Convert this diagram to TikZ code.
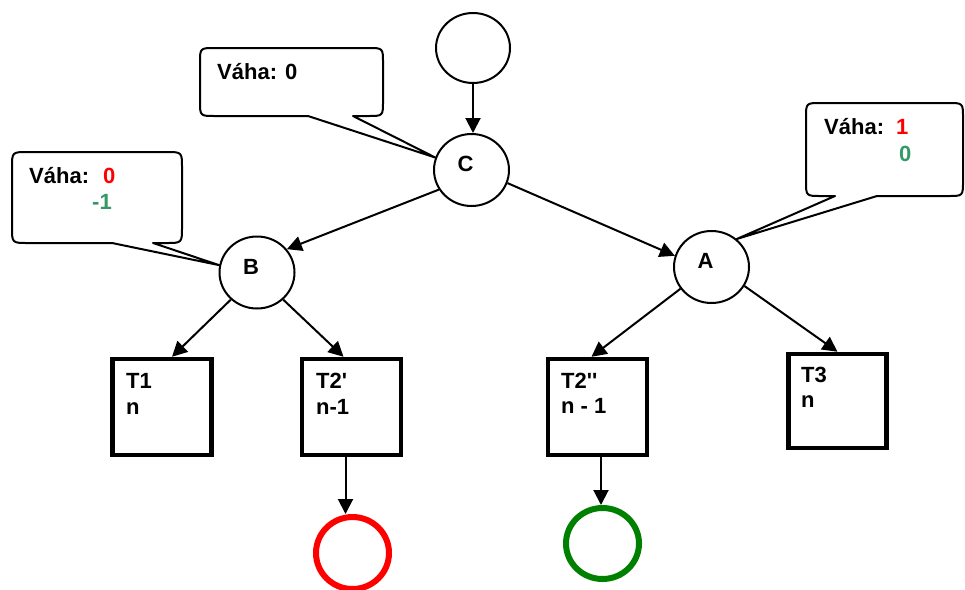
\documentclass[tikz,border=0pt]{standalone}
\usepackage{fontspec}
\setmainfont{Liberation Sans}
\usetikzlibrary{arrows.meta,shapes.geometric}
\definecolor{wgreen}{RGB}{51,153,102}
\definecolor{cgreen}{RGB}{0,128,0}
\begin{document}
\begin{tikzpicture}[x=1pt,y=-1pt,
 every node/.style={font=\fontsize{22}{26}\selectfont\bfseries},
 state/.style={draw,ellipse,line width=2pt,minimum width=75pt,minimum height=72pt,inner sep=0pt},
 task/.style={draw,rectangle,line width=4.5pt,minimum width=99pt,minimum height=96pt,inner sep=0pt},
 arr/.style={line width=2pt,-{Triangle[length=15pt,width=15pt]}},
 callout/.style={draw,fill=white,line width=2pt,line join=round},
 txt/.style={anchor=base west,inner sep=0pt},
 lbl/.style={label={[xshift=-6pt,yshift=6pt]center:#1}},
 endring/.style={draw,ellipse,line width=6pt,minimum width=73pt,minimum height=72pt,inner sep=0pt}]
\useasboundingbox (0,0) rectangle (965,589);

% state circles
\node[state,minimum width=74pt,minimum height=70pt] (top) at (473,48) {};
\node[state,lbl=C] (C) at (471.5,170) {};
\node[state,lbl=B] (B) at (257,272.5) {};
\node[state,lbl=A] (A) at (711.5,267) {};

% task boxes
\node[task] (t1) at (162,407) {};
\node[task] (t2p) at (351.5,407) {};
\node[task] (t2pp) at (597.5,407) {};
\node[task,minimum width=98pt,minimum height=94pt] (t3) at (837.5,401) {};

\node[txt] (t1a) at (126,388) {T1};
\node[txt] (t1b) at (126,414) {n};
\node[txt] (t2pa) at (316,388) {T2\textquotesingle};
\node[txt] (t2pb) at (316,414) {n-1};
\node[txt] (t2ppa) at (561,388) {T2\textquotesingle\textquotesingle};
\node[txt] (t2ppb) at (561,413) {n - 1};
\node[txt] (t3a) at (801,382) {T3};
\node[txt] (t3b) at (801,407) {n};

% end rings
\node[endring,draw=red] (red) at (352.5,553) {};
\node[endring,draw=cgreen,minimum height=71pt] (green) at (602.5,543.5) {};

% connectors
\coordinate (c0) at (top.south);
\draw[arr] (c0) -- (c0 |- C.north);
\draw[arr] (C.211) -- (B.38);
\draw[arr] (C.340) -- (A.163);
\draw[arr] (B.226) -- ([xshift=10pt]t1.north);
\draw[arr] (B.314) -- ([xshift=-8pt]t2p.north);
\draw[arr] (A.215) -- ([xshift=-6pt]t2pp.north);
\draw[arr] (A.330) -- (t3.north);
\coordinate (r1) at ([xshift=-6pt]t2p.south);
\coordinate (g1) at ([xshift=3.5pt,yshift=4pt]t2pp.south);
\draw[arr] (r1) -- (r1 |- red.north);
\draw[arr] (g1) -- (g1 |- green.north);

% callouts
\draw[callout] (308,116) -- (215,116) .. controls (200,116) .. (200,101) -- (200,63)
  .. controls (200,48) .. (215,48) -- (368,48) .. controls (383,48) .. (383,63)
  -- (383,101) .. controls (383,116) .. (368,116) -- (353,116) -- (C.161) -- cycle;
\draw[callout] (112,243) -- (28,243) .. controls (12,243) .. (12,227) -- (12,168)
  .. controls (12,152) .. (28,152) -- (166,152) .. controls (182,152) .. (182,168)
  -- (182,227) .. controls (182,243) .. (166,243) -- (153,243) -- (B.169) -- cycle;
\draw[callout] (877,196) -- (948,196) .. controls (963,196) .. (963,181) -- (963,118)
  .. controls (963,103) .. (948,103) -- (821,103) .. controls (806,103) .. (806,118)
  -- (806,181) .. controls (806,196) .. (821,196) -- (835,196) -- (A.48) -- cycle;

\node[txt] (w1) at (217,79) {Váha: 0};
\node[txt] (w2) at (29,183) {Váha:};
\node[txt,text=red] (w2r) at (103,183) {0};
\node[txt,text=wgreen] (w2g) at (92,209) {-1};
\node[txt] (w3) at (824,134) {Váha:};
\node[txt,text=red] (w3r) at (896,134) {1};
\node[txt,text=wgreen] (w3g) at (899,161) {0};
\end{tikzpicture}
\end{document}
